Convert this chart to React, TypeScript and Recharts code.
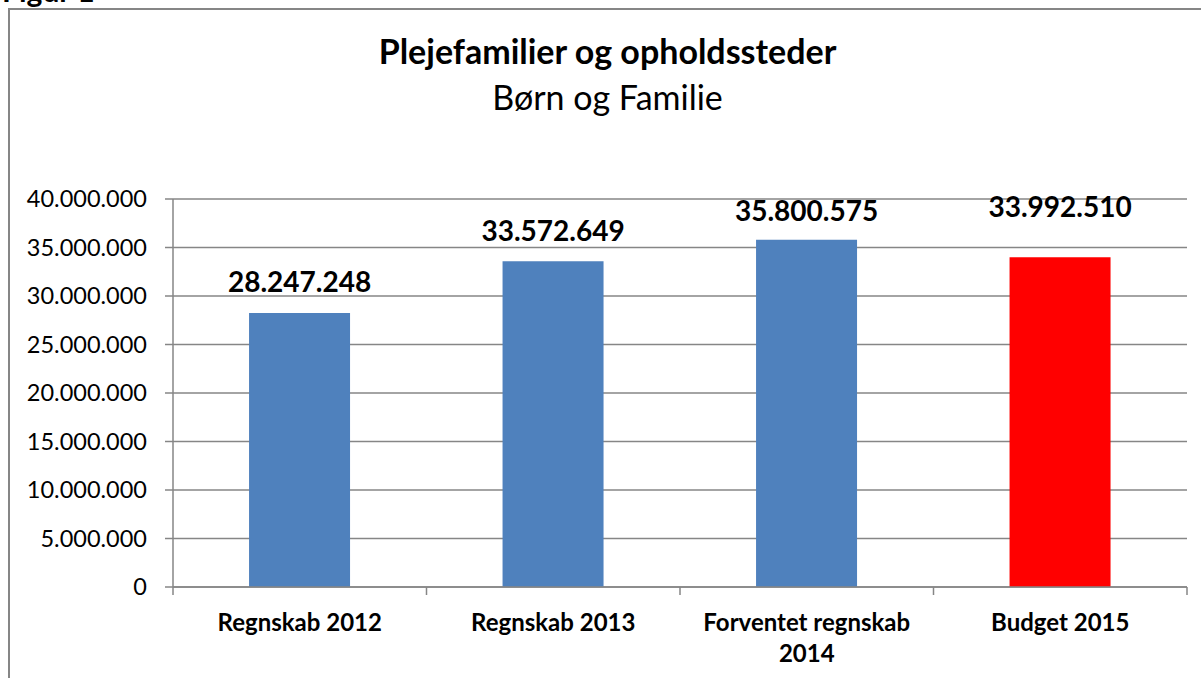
import { BarChart, Bar, XAxis, YAxis, CartesianGrid, Cell, LabelList } from 'recharts';

const categories = ['Regnskab 2012', 'Regnskab 2013', 'Forventet regnskab\n2014', 'Budget 2015'];
const amounts = [28247248, 33572649, 35800575, 33992510];
const yTicks = [0, 5000000, 10000000, 15000000, 20000000, 25000000, 30000000, 35000000, 40000000];

// styling only
const barColors = ['#4F81BD', '#4F81BD', '#4F81BD', '#FF0000'];
const labelLift = [21, 20, 19, 40];
const FONT = 'Lato, "Open Sans", sans-serif';
const GRID = '#868686';
const TICK_SIZE = 8;
const TICK_MARGIN = 19;

const rows = categories.map((category, i) => ({ category, amount: amounts[i] }));

// Danish thousands separator
const fmt = (v: number) => String(Math.round(v)).replace(/\B(?=(\d{3})+(?!\d))/g, '.');

function ValueLabel(props: any) {
  const { x, y, width, value, index } = props;
  return (
    <text
      x={x + width / 2}
      y={y - labelLift[index]}
      textAnchor="middle"
      fontFamily={FONT}
      fontWeight="bold"
      fontSize={28}
      fill="#000"
    >
      {fmt(value)}
    </text>
  );
}

// Excel puts the x tick marks between the categories, not under them
function CategoryTick(props: any) {
  const { x, y, payload, index } = props;
  const half = payload?.offset || 126.75;
  const y1 = y - TICK_MARGIN - TICK_SIZE;
  const y2 = y - TICK_MARGIN;
  const lines = String(payload.value).split('\n');
  return (
    <g>
      <line x1={x - half} x2={x - half} y1={y1} y2={y2} stroke={GRID} strokeWidth={1.5} />
      {index === categories.length - 1 && (
        <line x1={x + half} x2={x + half} y1={y1} y2={y2} stroke={GRID} strokeWidth={1.5} />
      )}
      <text x={x} y={y + 17} textAnchor="middle" fontFamily={FONT} fontWeight="bold" fontSize={24} fill="#000">
        {lines.map((ln, i) => (
          <tspan key={i} x={x} dy={i === 0 ? 0 : 31}>
            {ln}
          </tspan>
        ))}
      </text>
    </g>
  );
}

export default function App() {
  return (
    <div style={{ position: 'fixed', left: 0, top: 0, width: 1201, height: 678, overflow: 'hidden', background: '#fff' }}>
      <div
        style={{
          position: 'absolute', left: 2, top: -25, fontFamily: FONT, fontWeight: 'bold',
          fontSize: 30, lineHeight: 1, color: '#000', whiteSpace: 'nowrap',
        }}
      >
        Figur 1
      </div>
      <div
        style={{
          position: 'absolute', left: 8, top: 8, width: 1400, height: 900,
          borderLeft: `2px solid ${GRID}`, borderTop: `2px solid ${GRID}`,
        }}
      />
      <div
        style={{
          position: 'absolute', left: 0, width: 1201, top: 28, textAlign: 'center',
          paddingLeft: 14, boxSizing: 'border-box', fontFamily: FONT, color: '#000',
        }}
      >
        <div style={{ fontSize: 34, fontWeight: 'bold', lineHeight: '46px' }}>Plejefamilier og opholdssteder</div>
        <div style={{ fontSize: 34, lineHeight: '46px' }}>Børn og Familie</div>
      </div>
      <div style={{ position: 'absolute', left: 0, top: 0 }}>
        <BarChart
          width={1201}
          height={678}
          data={rows}
          margin={{ top: 199, right: 14, bottom: 0, left: 0 }}
          barCategoryGap="30%"
        >
          <CartesianGrid vertical={false} stroke={GRID} strokeWidth={1.5} />
          <XAxis
            dataKey="category"
            height={91}
            axisLine={{ stroke: GRID, strokeWidth: 1.5 }}
            tickLine={false}
            tickSize={TICK_SIZE}
            tickMargin={TICK_MARGIN}
            interval={0}
            tick={<CategoryTick />}
          />
          <YAxis
            width={173}
            domain={[0, 40000000]}
            ticks={yTicks}
            interval={0}
            tickFormatter={fmt}
            tickSize={8}
            tickMargin={18}
            axisLine={{ stroke: GRID, strokeWidth: 1.5 }}
            tickLine={{ stroke: GRID, strokeWidth: 1.5 }}
            tick={{ fontFamily: FONT, fontSize: 23.5, fill: '#000' }}
          />
          <Bar dataKey="amount" isAnimationActive={false}>
            {rows.map((r, i) => (
              <Cell key={r.category} fill={barColors[i]} />
            ))}
            <LabelList dataKey="amount" content={<ValueLabel />} />
          </Bar>
        </BarChart>
      </div>
    </div>
  );
}
